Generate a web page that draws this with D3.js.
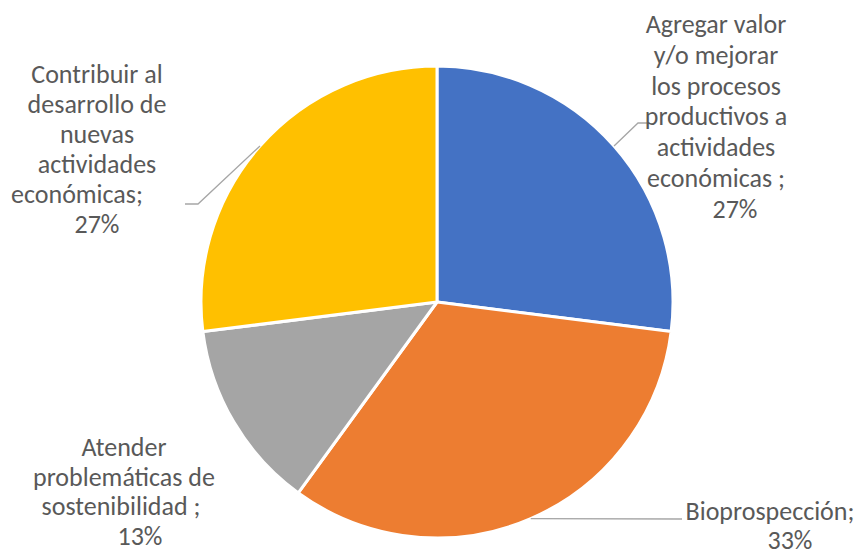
<!DOCTYPE html>
<html>
<head>
<meta charset="utf-8">
<script src="https://cdn.jsdelivr.net/npm/d3@7"></script>
<style>
  html, body { margin: 0; padding: 0; background: #ffffff; }
  svg { display: block; }
  text { font-family: Carlito, Calibri, "Open Sans", sans-serif; fill: #595959; }
</style>
</head>
<body>
<svg id="chart" width="857" height="553"></svg>
<script>
// Slice data, drawn clockwise from 12 o'clock
const categories = [
  "Agregar valor y/o mejorar los procesos productivos a actividades económicas",
  "Bioprospección",
  "Atender problemáticas de sostenibilidad",
  "Contribuir al desarrollo de nuevas actividades económicas"
];
const values = [27, 33, 13, 27];
const colors = ["#4472C4", "#ED7D31", "#A5A5A5", "#FFC000"];

// Wrapped label text (category lines ending with the separator) for each slice
const labelLines = [
  ["Agregar valor", "y/o mejorar", "los procesos", "productivos a", "actividades", "económicas ;"],
  ["Bioprospección;"],
  ["Atender", "problemáticas de", "sostenibilidad ;"],
  ["Contribuir al", "desarrollo de", "nuevas", "actividades", "económicas;"]
];

// Label placement: block centre x, first baseline y, line step,
// x shift of the separator line and of the value line, leader elbow and end
const labelLayout = [
  { cx: 716, y0: 33,  step: 30.8, sepDx: 0,   valueDx: 19, elbow: [638, 123], end: [648, 123] },
  { cx: 770, y0: 520, step: 29,   sepDx: 0,   valueDx: 20, elbow: null,       end: [682, 519] },
  { cx: 124, y0: 456, step: 29.7, sepDx: -3,  valueDx: 16, elbow: null,       end: null },
  { cx: 97,  y0: 83,  step: 30,   sepDx: -20, valueDx: 0,  elbow: [198, 204], end: [185, 204] }
];
const cx = 437, cy = 302, radius = 236;

const svg = d3.select("#chart");
const g = svg.append("g").attr("transform", `translate(${cx},${cy})`);

const pie = d3.pie().sort(null).value(d => d)
  .startAngle(0).endAngle(2 * Math.PI);
const arcs = pie(values);
const arc = d3.arc().innerRadius(0).outerRadius(radius);

g.selectAll("path.slice")
  .data(arcs)
  .join("path")
  .attr("class", "slice")
  .attr("d", arc)
  .attr("fill", (d, i) => colors[i])
  .attr("stroke", "#ffffff")
  .attr("stroke-width", 3)
  .attr("stroke-linejoin", "round");

// Leader lines from the slice's mid-angle on the rim to its label
arcs.forEach((d, i) => {
  const L = labelLayout[i];
  if (!L.end) return;
  const mid = (d.startAngle + d.endAngle) / 2;
  const sx = cx + radius * Math.sin(mid);
  const sy = cy - radius * Math.cos(mid);
  const pts = [[sx, sy]];
  if (L.elbow) pts.push(L.elbow);
  pts.push(L.end);
  svg.append("path")
    .attr("d", d3.line()(pts))
    .attr("fill", "none")
    .attr("stroke", "#a6a6a6")
    .attr("stroke-width", 1.3);
});

// Data labels
arcs.forEach((d, i) => {
  const L = labelLayout[i];
  const lines = labelLines[i];
  const t = svg.append("text")
    .attr("text-anchor", "middle")
    .attr("font-size", 26);
  lines.forEach((line, k) => {
    t.append("tspan")
      .attr("x", L.cx + (k === lines.length - 1 ? L.sepDx : 0))
      .attr("y", L.y0 + k * L.step)
      .text(line);
  });
  t.append("tspan")
    .attr("x", L.cx + L.valueDx)
    .attr("y", L.y0 + lines.length * L.step)
    .text(values[i] + "%");
});
</script>
</body>
</html>
